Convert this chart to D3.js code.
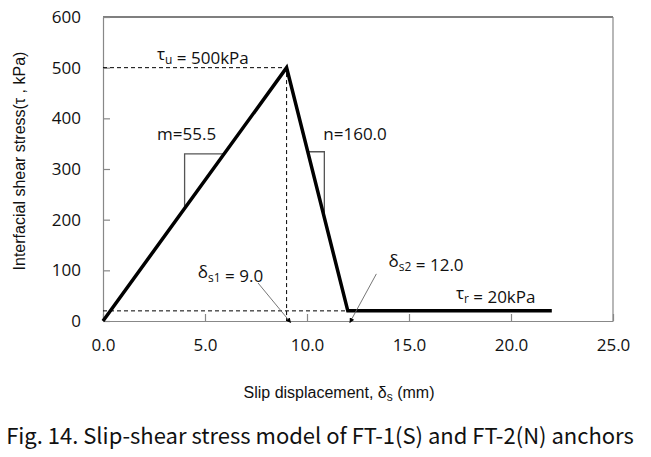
<!DOCTYPE html>
<html>
<head>
<meta charset="utf-8">
<script src="https://cdn.jsdelivr.net/npm/d3@7"></script>
<style>
  body { margin: 0; background: #fff; }
  svg { display: block; }
</style>
</head>
<body>
<div id="chart"></div>
<script>
// model curve
const slip = [0, 9.0, 12.0, 22.0];
const stress = [0, 500, 20, 20];

const xTicks = [0, 5, 10, 15, 20, 25];
const yTicks = [0, 100, 200, 300, 400, 500, 600];

// guide lines (dashed)
const dashX1 = [0, 9.0, 9.0];
const dashY1 = [500, 500, 0];
const dashX2 = [0, 12.0];
const dashY2 = [20, 20];

// slope triangles
const triMx = [5.9, 4.0, 4.0];
const triMy = [330, 330, 222];
const triNx = [10.05, 10.85, 10.85];
const triNy = [334, 334, 210];

// arrows [x0, y0, x1, y1]
const arrow1 = [7.6, 75, 9.2, -3];
const arrow2 = [13.4, 93, 12.1, -3];

const width = 651, height = 457;
const margin = { top: 17, right: 38, bottom: 136, left: 103 };

const svg = d3.select("#chart")
    .append("svg")
    .attr("width", width)
    .attr("height", height);

const x = d3.scaleLinear()
    .domain([0, 25])
    .range([margin.left, width - margin.right]);
const y = d3.scaleLinear()
    .domain([0, 600])
    .range([height - margin.bottom, margin.top]);

const tickFont = "'Open Sans', sans-serif";

svg.append("defs").append("marker")
    .attr("id", "head")
    .attr("viewBox", "0 0 10 10")
    .attr("refX", 9).attr("refY", 5)
    .attr("markerWidth", 5).attr("markerHeight", 5)
    .attr("markerUnits", "userSpaceOnUse")
    .attr("orient", "auto")
    .append("path")
    .attr("d", "M0,0 L10,5 L0,10 Z")
    .attr("fill", "#000");

// frame
svg.append("line")
    .attr("x1", x(0)).attr("x2", x(25))
    .attr("y1", y(600)).attr("y2", y(600))
    .attr("stroke", "#000").attr("stroke-width", 1.2);
svg.append("line")
    .attr("x1", x(25)).attr("x2", x(25))
    .attr("y1", y(600)).attr("y2", y(0))
    .attr("stroke", "#888").attr("stroke-width", 1.2);

// axes
const xAxis = svg.append("g")
    .attr("transform", `translate(0,${y(0)})`)
    .call(d3.axisBottom(x).tickValues(xTicks).tickSizeInner(-7).tickSizeOuter(0).tickPadding(18)
        .tickFormat(d3.format(".1f")));
const yAxis = svg.append("g")
    .attr("transform", `translate(${x(0)},0)`)
    .call(d3.axisLeft(y).tickValues(yTicks).tickSizeInner(-7).tickSizeOuter(0).tickPadding(22));

[xAxis, yAxis].forEach(g => {
    g.select(".domain").attr("stroke", "#888").attr("stroke-width", 1.2);
    g.selectAll(".tick line").attr("stroke", "#888").attr("stroke-width", 1.2);
    g.selectAll(".tick text")
        .style("font-family", tickFont)
        .style("font-size", "17px")
        .attr("fill", "#111");
});

// dashed guides
const line = d3.line().x(d => x(d[0])).y(d => y(d[1]));
svg.append("path")
    .attr("d", line(d3.zip(dashX1, dashY1)))
    .attr("fill", "none").attr("stroke", "#000").attr("stroke-width", 1)
    .attr("stroke-dasharray", "4,3");
svg.append("path")
    .attr("d", line(d3.zip(dashX2, dashY2)))
    .attr("fill", "none").attr("stroke", "#000").attr("stroke-width", 1)
    .attr("stroke-dasharray", "4,3");

// slope triangles
[[triMx, triMy], [triNx, triNy]].forEach(([tx, ty]) => {
    svg.append("path")
        .attr("d", line(d3.zip(tx, ty)))
        .attr("fill", "none").attr("stroke", "#555").attr("stroke-width", 1.3);
});

// model curve
svg.append("path")
    .attr("d", line(d3.zip(slip, stress)))
    .attr("fill", "none").attr("stroke", "#000").attr("stroke-width", 3.5)
    .attr("stroke-linejoin", "miter");

// arrows
[arrow1, arrow2].forEach(a => {
    svg.append("line")
        .attr("x1", x(a[0])).attr("y1", y(a[1]))
        .attr("x2", x(a[2])).attr("y2", y(a[3]))
        .attr("stroke", "#666").attr("stroke-width", 0.9)
        .attr("marker-end", "url(#head)");
});

// annotations
function label(xv, yv, parts) {
    const t = svg.append("text")
        .attr("x", x(xv)).attr("y", y(yv))
        .style("font-family", tickFont)
        .style("font-size", "17px")
        .attr("fill", "#111");
    parts.forEach(p => {
        if (p.sub) {
            t.append("tspan").attr("dy", 4).style("font-size", "12px").text(p.sub);
            t.append("tspan").attr("dy", -4).text("");
        } else {
            t.append("tspan").text(p.t);
        }
    });
}
label(2.65, 515, [{ t: "τ" }, { sub: "u" }, { t: " = 500kPa" }]);
label(2.65, 357, [{ t: "m=55.5" }]);
label(10.8, 357, [{ t: "n=160.0" }]);
label(4.65, 85, [{ t: "δ" }, { sub: "s1" }, { t: " = 9.0" }]);
label(14.0, 107, [{ t: "δ" }, { sub: "s2" }, { t: " = 12.0" }]);
label(17.3, 43, [{ t: "τ" }, { sub: "r" }, { t: " = 20kPa" }]);

// axis titles
svg.append("text")
    .attr("transform", "translate(25,161) rotate(-90)")
    .attr("text-anchor", "middle")
    .style("font-family", "'Liberation Sans', Arial, sans-serif")
    .style("font-size", "16px")
    .attr("fill", "#111")
    .text("Interfacial shear stress(τ  , kPa)");

const xTitle = svg.append("text")
    .attr("x", 339).attr("y", 398)
    .attr("text-anchor", "middle")
    .style("font-family", "'Liberation Sans', Arial, sans-serif")
    .style("font-size", "16px")
    .attr("fill", "#111");
xTitle.append("tspan").text("Slip displacement, δ");
xTitle.append("tspan").attr("dy", 3).style("font-size", "12px").text("s");
xTitle.append("tspan").attr("dy", -3).text(" (mm)");

// caption
svg.append("text")
    .attr("x", 320).attr("y", 444)
    .attr("text-anchor", "middle")
    .style("font-family", "'Noto Sans CJK KR', sans-serif")
    .style("font-size", "22px")
    .attr("fill", "#111")
    .text("Fig. 14. Slip-shear stress model of FT-1(S) and FT-2(N) anchors");
</script>
</body>
</html>
